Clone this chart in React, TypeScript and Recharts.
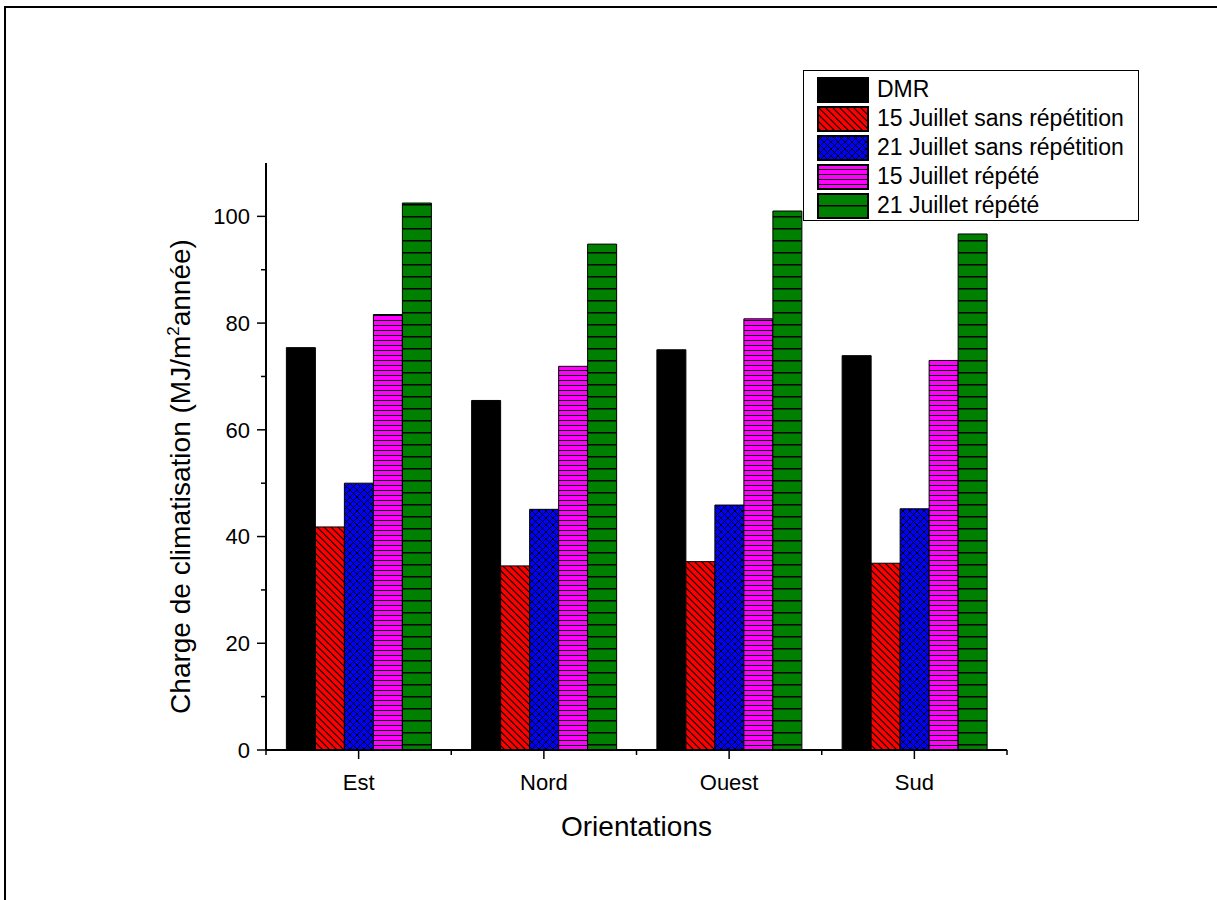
import React from 'react';
import { BarChart, Bar, XAxis, YAxis, Legend, Label } from 'recharts';

const categories = ['Est', 'Nord', 'Ouest', 'Sud'];
const dmr = [75.4, 65.5, 75.0, 73.9];
const juillet15 = [41.8, 34.5, 35.3, 35.0];
const juillet21 = [50.0, 45.1, 45.9, 45.2];
const juillet15Repete = [81.6, 71.9, 80.8, 73.0];
const juillet21Repete = [102.5, 94.8, 101.0, 96.7];
const yTicks = [0, 10, 20, 30, 40, 50, 60, 70, 80, 90, 100];

const series = [
  { key: 'dmr', name: 'DMR', fill: '#000000' },
  { key: 'j15', name: '15 Juillet sans répétition', fill: 'url(#pRed)' },
  { key: 'j21', name: '21 Juillet sans répétition', fill: 'url(#pBlue)' },
  { key: 'j15r', name: '15 Juillet répété', fill: 'url(#pMagenta)' },
  { key: 'j21r', name: '21 Juillet répété', fill: 'url(#pGreen)' },
];

const data = categories.map((c, i) => ({
  name: c,
  dmr: dmr[i],
  j15: juillet15[i],
  j21: juillet21[i],
  j15r: juillet15Repete[i],
  j21r: juillet21Repete[i],
}));

const W = 1217;
const H = 900;
const MARGIN = { top: 163, right: 210, bottom: 60, left: 156 };
const Y_AXIS_W = 110;
const X_AXIS_H = 90;
const FONT = '"Liberation Sans", Arial, Helvetica, sans-serif';
const band = (W - MARGIN.left - MARGIN.right - Y_AXIS_W) / categories.length;

function XTick(props: any) {
  const { x, y, payload, index } = props;
  return (
    <g>
      <line x1={x} y1={y} x2={x} y2={y + 9} stroke="#000" strokeWidth={1.5} />
      <line x1={x - band / 2} y1={y} x2={x - band / 2} y2={y + 5} stroke="#000" strokeWidth={1.5} />
      {index === categories.length - 1 && (
        <line x1={x + band / 2} y1={y} x2={x + band / 2} y2={y + 5} stroke="#000" strokeWidth={1.5} />
      )}
      <text x={x} y={y + 40} textAnchor="middle" fontSize={22} fontFamily={FONT} fill="#000">
        {payload.value}
      </text>
    </g>
  );
}

function YTick(props: any) {
  const { x, y, payload } = props;
  const major = payload.value % 20 === 0;
  return (
    <g>
      <line x1={x} y1={y} x2={x - (major ? 9 : 5)} y2={y} stroke="#000" strokeWidth={1.5} />
      {major && (
        <text x={x - 16} y={y} dy="0.36em" textAnchor="end" fontSize={22} fontFamily={FONT} fill="#000">
          {payload.value}
        </text>
      )}
    </g>
  );
}

function YTitle(props: any) {
  const { viewBox } = props;
  const cx = viewBox.x + 24;
  const cy = viewBox.y + viewBox.height / 2 + 20;
  return (
    <text
      x={cx}
      y={cy}
      transform={`rotate(-90, ${cx}, ${cy})`}
      textAnchor="middle"
      dy="0.36em"
      fontSize={28}
      fontFamily={FONT}
      fill="#000"
    >
      Charge de climatisation (MJ/m
      <tspan dy={-11} fontSize={17}>2</tspan>
      <tspan dy={11}>année)</tspan>
    </text>
  );
}

function XTitle(props: any) {
  const { viewBox } = props;
  return (
    <text
      x={viewBox.x + viewBox.width / 2}
      y={viewBox.y + 86}
      textAnchor="middle"
      fontSize={28}
      fontFamily={FONT}
      fill="#000"
    >
      Orientations
    </text>
  );
}

function LegendBox() {
  return (
    <div
      style={{
        border: '1.5px solid #000',
        background: '#fff',
        padding: '4px 0 4px 13px',
        boxSizing: 'border-box',
        width: 336,
        height: 151,
        fontFamily: FONT,
        fontSize: 23,
        color: '#000',
      }}
    >
      {series.map((s) => (
        <div key={s.key} style={{ display: 'flex', alignItems: 'center', height: 29 }}>
          <svg width={52} height={26} style={{ marginRight: 8, flex: 'none' }}>
            <rect x={1} y={1} width={50} height={24} fill={s.fill} stroke="#000" strokeWidth={2} />
          </svg>
          <span style={{ whiteSpace: 'nowrap' }}>{s.name}</span>
        </div>
      ))}
    </div>
  );
}

export default function App() {
  return (
    <div style={{ position: 'absolute', left: 0, top: 0, width: W, height: H, background: '#fff' }}>
      <div style={{ position: 'absolute', left: 4, top: 6, width: W - 4, height: 2, background: '#000' }} />
      <div style={{ position: 'absolute', left: 4, top: 6, width: 2, height: H - 6, background: '#000' }} />
      <BarChart
        width={W}
        height={H}
        data={data}
        margin={MARGIN}
        barCategoryGap="11%"
        barGap={0}
      >
        <defs>
          <pattern id="pRed" width={7} height={7} patternUnits="userSpaceOnUse">
            <rect width={7} height={7} fill="#ff0000" />
            <path d="M0,0 L7,7 M-1,6 L1,8 M6,-1 L8,1" stroke="#000" strokeWidth={1.2} />
          </pattern>
          <pattern id="pBlue" width={7} height={7} patternUnits="userSpaceOnUse">
            <rect width={7} height={7} fill="#0000ff" />
            <path
              d="M0,0 L7,7 M-1,6 L1,8 M6,-1 L8,1 M7,0 L0,7 M-1,1 L1,-1 M6,8 L8,6"
              stroke="#000"
              strokeWidth={1}
            />
          </pattern>
          <pattern id="pMagenta" width={5} height={5} patternUnits="userSpaceOnUse">
            <rect width={5} height={5} fill="#ff00ff" />
            <line x1={0} y1={0.5} x2={5} y2={0.5} stroke="#000" strokeWidth={1} />
          </pattern>
          <pattern id="pGreen" width={12} height={12} patternUnits="userSpaceOnUse">
            <rect width={12} height={12} fill="#008000" />
            <line x1={0} y1={0.75} x2={12} y2={0.75} stroke="#000" strokeWidth={1.5} />
          </pattern>
        </defs>
        <XAxis
          dataKey="name"
          height={X_AXIS_H}
          axisLine={{ stroke: '#000', strokeWidth: 2 }}
          tickLine={false}
          tickSize={0}
          tickMargin={0}
          interval={0}
          tick={<XTick />}
        >
          <Label content={<XTitle />} />
        </XAxis>
        <YAxis
          width={Y_AXIS_W}
          domain={[0, 110]}
          ticks={yTicks}
          interval={0}
          axisLine={{ stroke: '#000', strokeWidth: 2 }}
          tickLine={false}
          tickSize={0}
          tickMargin={0}
          tick={<YTick />}
        >
          <Label content={<YTitle />} />
        </YAxis>
        <Legend
          layout="vertical"
          align="center"
          verticalAlign="middle"
          content={<LegendBox />}
          wrapperStyle={{ left: 803, top: 70, width: 336, height: 151 }}
        />
        {series.map((s) => (
          <Bar
            key={s.key}
            dataKey={s.key}
            name={s.name}
            fill={s.fill}
            stroke="#000"
            strokeWidth={1}
            isAnimationActive={false}
          />
        ))}
      </BarChart>
    </div>
  );
}
